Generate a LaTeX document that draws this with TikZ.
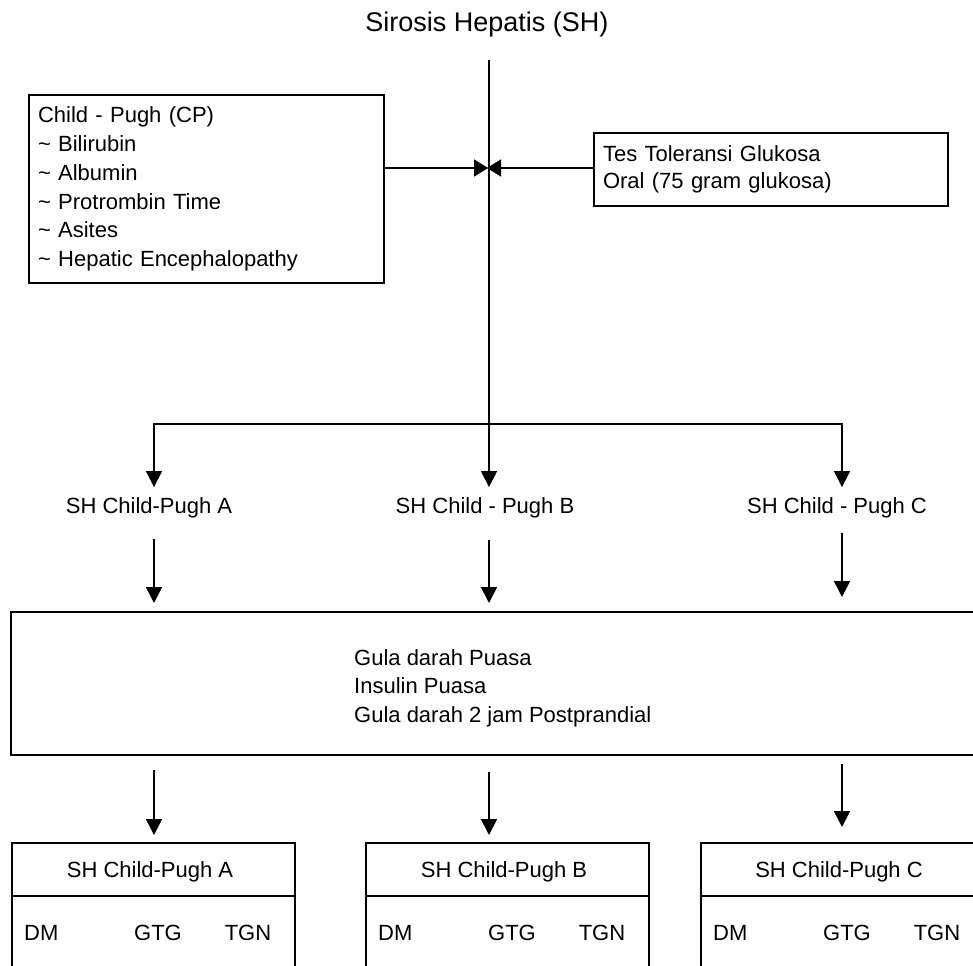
\documentclass[tikz,border=0pt]{standalone}
\usepackage{fontspec}
\setmainfont{Liberation Sans}
\usetikzlibrary{arrows.meta,calc}

\begin{document}
\begin{tikzpicture}[x=1pt,y=-1pt,
  every node/.style={font=\fontsize{22}{28.7}\selectfont},
  frame/.style={draw, line width=2.5pt, outer sep=0pt},
  wire/.style={line width=1.7pt},
  arr/.style={wire, -{Triangle[length=16pt,width=16pt]}},
  meet/.style={wire, -{Triangle[length=14pt,width=17pt]}},
  fork/.style={wire, {Triangle[length=16pt,width=16pt]}-{Triangle[length=16pt,width=16pt]}},
  lab/.style={anchor=base, inner sep=0pt, outer ysep=10pt},
  cell/.style={anchor=base, inner sep=0pt},
]
\useasboundingbox (0,0) rectangle (973,965);
\clip (0,0) rectangle (973,965);

% title
\node[anchor=base, font=\fontsize{27}{32}\selectfont] (title) at (487,32) {Sirosis Hepatis (SH)};
\coordinate (top) at (489,60);
\coordinate (hub) at (489,168);

% input boxes
\node[frame, anchor=north west, minimum width=355pt, minimum height=188pt,
      text width=337pt, inner xsep=9pt, inner ysep=0pt, align=left] (cp) at (29,95)
  {Child - Pugh (CP)\\
   \textasciitilde{} Bilirubin\\
   \textasciitilde{} Albumin\\
   \textasciitilde{} Protrombin Time\\
   \textasciitilde{} Asites\\
   \textasciitilde{} Hepatic Encephalopathy};
\node[frame, anchor=north west, minimum width=354pt, minimum height=73pt,
      text width=336pt, inner xsep=9pt, inner ysep=0pt, align=left] (ttgo) at (594,133)
  {\raisebox{-2pt}{Tes Toleransi Glukosa}\\Oral (75 gram glukosa)};

% classification labels
\node[lab] (labA) at (149,513) {SH Child-Pugh A};
\node[lab] (labB) at (485,513) {SH Child - Pugh B};
\node[lab] (labC) at (837,513) {SH Child - Pugh C};
\coordinate (brA) at (154,424);
\coordinate (brC) at (842,424);

% laboratory box
\node[frame, anchor=north west, minimum width=988pt, minimum height=143pt] (gula) at (11,612) {};
\node[anchor=north west, inner sep=0pt, align=left] (gulatext) at (354,649)
  {Gula darah Puasa\\Insulin Puasa\\Gula darah 2 jam Postprandial};

% result boxes
\foreach \n/\L/\t in {A/12/SH Child-Pugh A, B/366/SH Child-Pugh B, C/701/SH Child-Pugh C} {
  \node[frame, anchor=north west, minimum width=283pt, minimum height=170pt, inner sep=0pt] (box\n) at (\L,843) {};
  \draw[line width=2.5pt] ($(box\n.north west)+(0,53)$) -- ($(box\n.north east)+(0,53)$);
  \node[cell] (head\n) at (\L+138,877) {\t};
  \node[cell, anchor=base west] (dm\n) at (\L+12,940) {DM};
  \node[cell] (gtg\n) at (\L+146,940) {GTG};
  \node[cell] (tgn\n) at (\L+236,940) {TGN};
}

% connectors
\draw[wire] (top) -- (hub);
\draw[arr] (hub) -- (top |- labB.north);
\draw[meet, shorten >=1pt] (cp.east |- hub) -- (hub);
\draw[meet, shorten >=-2pt] (ttgo.west |- hub) -- (hub);
\draw[fork] (brA |- labA.north) -- (brA) -- (brC) -- (brC |- labC.north);

\draw[arr, shorten <=11pt, shorten >=9pt] (brA |- labA.south) -- (brA |- gula.north);
\draw[arr, shorten <=12pt, shorten >=9pt] (top |- labB.south) -- (top |- gula.north);
\draw[arr, shorten <=5pt, shorten >=15pt] (brC |- labC.south) -- (brC |- gula.north);

\draw[arr, shorten <=15pt, shorten >=8pt] (brA |- gula.south) -- (brA |- boxA.north);
\draw[arr, shorten <=17pt, shorten >=8pt] (top |- gula.south) -- (top |- boxB.north);
\draw[arr, shorten <=9pt, shorten >=16pt] (brC |- gula.south) -- (brC |- boxC.north);
\end{tikzpicture}
\end{document}
